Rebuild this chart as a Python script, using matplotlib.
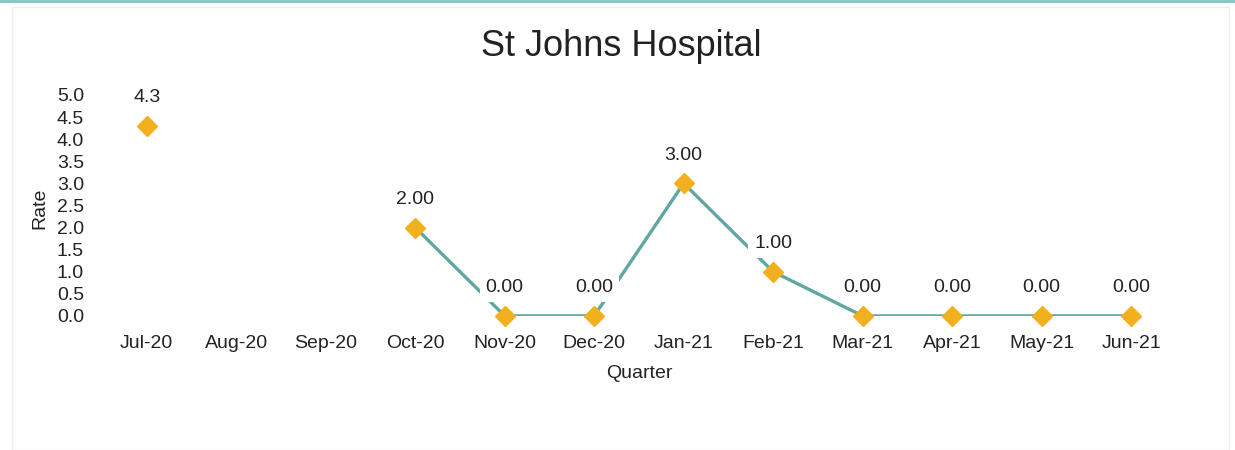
import numpy as np
import matplotlib
matplotlib.use("Agg")
import matplotlib.pyplot as plt

# data
months = ['Jul-20', 'Aug-20', 'Sep-20', 'Oct-20', 'Nov-20', 'Dec-20',
          'Jan-21', 'Feb-21', 'Mar-21', 'Apr-21', 'May-21', 'Jun-21']
rate = [4.3, np.nan, np.nan, 2.0, 0.0, 0.0, 3.0, 1.0, 0.0, 0.0, 0.0, 0.0]
point_labels = ['4.3', '', '', '2.00', '0.00', '0.00', '3.00', '1.00',
                '0.00', '0.00', '0.00', '0.00']
yticks = [0.0, 0.5, 1.0, 1.5, 2.0, 2.5, 3.0, 3.5, 4.0, 4.5, 5.0]

font = 'Liberation Sans'
line_col = '#5fa8a0'
mark_col = '#f2b01e'
txt_col = '#222222'

fig = plt.figure(figsize=(12.35, 4.5), dpi=100)
ax = fig.add_axes([0.0826, 0.298, 0.8695, 0.491])

x = np.arange(len(months))
y = np.array(rate)
ax.plot(x, y, color=line_col, lw=2.4, zorder=2, solid_capstyle='round')
ax.plot(x, y, linestyle='none', marker='D', markersize=10, color=mark_col,
        markeredgecolor=mark_col, zorder=5, clip_on=False)

for xi, yi, lab in zip(x, y, point_labels):
    if lab == '' or np.isnan(yi):
        continue
    ax.annotate(lab, (xi, yi), xytext=(0, 14), textcoords='offset points',
                ha='center', va='bottom', fontsize=14, family=font, color=txt_col,
                bbox=dict(boxstyle='square,pad=0.3', fc='white', ec='none'),
                zorder=3)

ax.set_xlim(-0.5, len(months) - 0.5)
ax.set_ylim(0, 5)
ax.set_yticks(yticks)
ax.set_yticklabels(['%.1f' % t for t in yticks], family=font, fontsize=14, color=txt_col)
ax.set_xticks(x)
ax.set_xticklabels(months, family=font, fontsize=14, color=txt_col)
ax.tick_params(axis='both', length=0)
ax.tick_params(axis='y', pad=13)
ax.tick_params(axis='x', pad=14)
for s in ax.spines.values():
    s.set_visible(False)

ax.set_xlabel('Quarter', family=font, fontsize=14, color=txt_col, labelpad=9)
fig.text(40 / 1235, 1 - 208 / 450, 'Rate', rotation=90, ha='center', va='center',
         family=font, fontsize=14, color=txt_col)
fig.text(0.503, 1 - 47 / 450, 'St Johns Hospital', ha='center', va='center',
         fontsize=26, family=font, color=txt_col)

# thin teal strip at the top and faint card border
fig.add_artist(plt.Line2D([0, 1], [0.998, 0.998], color='#7cc7c0', lw=2))
fig.add_artist(plt.Rectangle((0.010, 0.0), 0.985, 0.984, fill=False,
                             ec='#eeeeee', lw=1))

fig.savefig('out.png', dpi=100)
